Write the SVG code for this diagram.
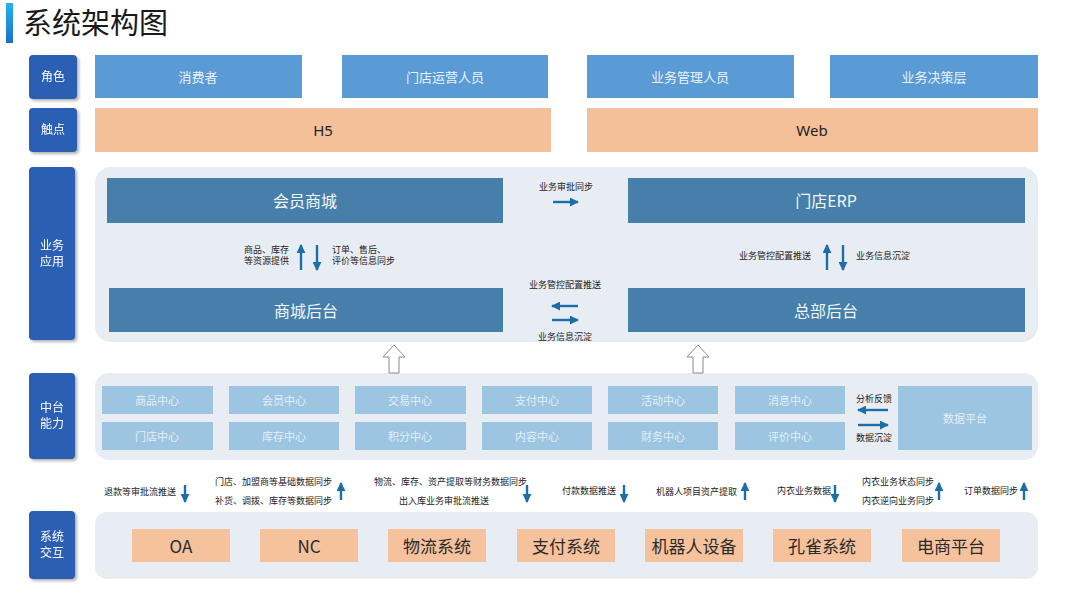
<svg xmlns="http://www.w3.org/2000/svg" width="1080" height="608" viewBox="0 0 1080 608">
<defs>
<linearGradient id="tb" x1="0" y1="0" x2="0" y2="1"><stop offset="0" stop-color="#23b4ec"/><stop offset="1" stop-color="#1a6fcc"/></linearGradient>
<filter id="sh" x="-20%" y="-20%" width="150%" height="150%"><feDropShadow dx="2" dy="2" stdDeviation="1.5" flood-color="#000" flood-opacity="0.3"/></filter>
<marker id="ah" viewBox="0 0 10 10" refX="9" refY="5" markerWidth="9" markerHeight="9" markerUnits="userSpaceOnUse" orient="auto"><path d="M0,0 L10,5 L0,10 z" fill="#1c6ea8"/></marker>
<marker id="as" viewBox="0 0 10 10" refX="9" refY="5" markerWidth="9" markerHeight="9" markerUnits="userSpaceOnUse" orient="auto"><path d="M0,0 L10,5 L0,10 z" fill="#1c6ea8"/></marker>
<style>
text{font-family:"Noto Sans CJK SC","Noto Sans",sans-serif}
.lab rect{fill:#2b5fb3}
.lab text{fill:#fff;font-size:12px;text-anchor:middle}
.role rect{fill:#5b9bd5}
.role text{fill:#eaf2fb;font-size:13px;text-anchor:middle;dominant-baseline:central}
.tp rect{fill:#f4c09a}
.tp text{fill:#222;font-size:15px;text-anchor:middle;dominant-baseline:central;font-family:"Noto Sans","Liberation Sans",sans-serif}
.cont{fill:#e8edf3}
.app rect{fill:#477fab}
.app text{fill:#f2f6fa;font-size:16px;text-anchor:middle;dominant-baseline:central}
.mid rect{fill:#9cc5e2}
.mid text{fill:#e3eef7;font-size:11px;text-anchor:middle;dominant-baseline:central}
.sys rect{fill:#f5c29d}
.sys text{fill:#2a2a2a;font-size:17px;text-anchor:middle;dominant-baseline:central}
.sm{font-size:9px;fill:#222}
.ar{stroke:#1c6ea8;stroke-width:2.4;fill:none;marker-end:url(#ah)}
.ah{stroke:#1c6ea8;stroke-width:2.4;fill:none;marker-end:url(#as)}
.hol{fill:#fff;stroke:#8a8a8a;stroke-width:1}
</style>
</defs>
<rect width="1080" height="608" fill="#fff"/>
<g id="title">
<rect x="6" y="3" width="7" height="40" fill="url(#tb)"/>
<text x="23" y="34" font-size="29" fill="#1a1a1a">系统架构图</text>
</g>
<g id="label-role" class="lab" filter="url(#sh)"><rect x="29" y="55" width="48" height="44" rx="4"/><text x="53" y="81">角色</text></g>
<g id="label-touch" class="lab" filter="url(#sh)"><rect x="29" y="108" width="48" height="44" rx="4"/><text x="53" y="134">触点</text></g>
<g id="label-app" class="lab" filter="url(#sh)"><rect x="29" y="167" width="46" height="173" rx="4"/><text x="52" y="250">业务</text><text x="52" y="266">应用</text></g>
<g id="label-mid" class="lab" filter="url(#sh)"><rect x="29" y="373" width="46" height="86" rx="4"/><text x="52" y="412">中台</text><text x="52" y="428">能力</text></g>
<g id="label-sys" class="lab" filter="url(#sh)"><rect x="29" y="511" width="46" height="68" rx="4"/><text x="52" y="541">系统</text><text x="52" y="557">交互</text></g>

<g id="role-consumer" class="role"><rect x="95" y="55" width="207" height="43"/><text x="198" y="76">消费者</text></g>
<g id="role-store" class="role"><rect x="342" y="55" width="206" height="43"/><text x="445" y="76">门店运营人员</text></g>
<g id="role-mgmt" class="role"><rect x="587" y="55" width="207" height="43"/><text x="690" y="76">业务管理人员</text></g>
<g id="role-decision" class="role"><rect x="830" y="55" width="208" height="43"/><text x="934" y="76">业务决策层</text></g>

<g id="tp-h5" class="tp"><rect x="95" y="108" width="456" height="44"/><text x="323" y="130">H5</text></g>
<g id="tp-web" class="tp"><rect x="587" y="108" width="451" height="44"/><text x="812" y="130">Web</text></g>

<rect id="app-container" class="cont" x="95" y="167" width="943" height="175" rx="16"/>
<g id="app-mall" class="app"><rect x="107" y="178" width="396" height="45"/><text x="305" y="200">会员商城</text></g>
<g id="app-erp" class="app"><rect x="628" y="178" width="397" height="45"/><text x="826" y="200">门店ERP</text></g>
<g id="app-mallback" class="app"><rect x="109" y="288" width="394" height="44"/><text x="306" y="310">商城后台</text></g>
<g id="app-hq" class="app"><rect x="628" y="288" width="397" height="44"/><text x="826" y="310">总部后台</text></g>

<rect id="mid-container" class="cont" x="95" y="373" width="943" height="87" rx="14"/>
<g id="mid-goods" class="mid"><rect x="102" y="386" width="111" height="28"/><text x="157" y="400">商品中心</text></g>
<g id="mid-member" class="mid"><rect x="229" y="386" width="110" height="28"/><text x="284" y="400">会员中心</text></g>
<g id="mid-trade" class="mid"><rect x="355" y="386" width="111" height="28"/><text x="410" y="400">交易中心</text></g>
<g id="mid-pay" class="mid"><rect x="482" y="386" width="110" height="28"/><text x="537" y="400">支付中心</text></g>
<g id="mid-activity" class="mid"><rect x="608" y="386" width="110" height="28"/><text x="663" y="400">活动中心</text></g>
<g id="mid-msg" class="mid"><rect x="735" y="386" width="110" height="28"/><text x="790" y="400">消息中心</text></g>
<g id="mid-store" class="mid"><rect x="102" y="422" width="111" height="28"/><text x="157" y="436">门店中心</text></g>
<g id="mid-stock" class="mid"><rect x="229" y="422" width="110" height="28"/><text x="284" y="436">库存中心</text></g>
<g id="mid-points" class="mid"><rect x="355" y="422" width="111" height="28"/><text x="410" y="436">积分中心</text></g>
<g id="mid-content" class="mid"><rect x="482" y="422" width="110" height="28"/><text x="537" y="436">内容中心</text></g>
<g id="mid-finance" class="mid"><rect x="608" y="422" width="110" height="28"/><text x="663" y="436">财务中心</text></g>
<g id="mid-review" class="mid"><rect x="735" y="422" width="110" height="28"/><text x="790" y="436">评价中心</text></g>
<g id="mid-data" class="mid"><rect x="898" y="386" width="134" height="64"/><text x="965" y="418">数据平台</text></g>

<rect id="sys-container" class="cont" x="95" y="512" width="943" height="67" rx="12"/>
<g id="sys-oa" class="sys"><rect x="132" y="529" width="98" height="33"/><text x="181" y="545" font-family="Noto Sans,Liberation Sans,sans-serif">OA</text></g>
<g id="sys-nc" class="sys"><rect x="260" y="529" width="98" height="33"/><text x="309" y="545" font-family="Noto Sans,Liberation Sans,sans-serif">NC</text></g>
<g id="sys-logistics" class="sys"><rect x="388" y="529" width="98" height="33"/><text x="437" y="545">物流系统</text></g>
<g id="sys-pay" class="sys"><rect x="517" y="529" width="98" height="33"/><text x="566" y="545">支付系统</text></g>
<g id="sys-robot" class="sys"><rect x="645" y="529" width="98" height="33"/><text x="694" y="545">机器人设备</text></g>
<g id="sys-peacock" class="sys"><rect x="773" y="529" width="98" height="33"/><text x="822" y="545">孔雀系统</text></g>
<g id="sys-ecom" class="sys"><rect x="902" y="529" width="98" height="33"/><text x="951" y="545">电商平台</text></g>

<g id="connectors">
<text class="sm" x="566" y="190" text-anchor="middle">业务审批同步</text>
<path class="ah" d="M553,202 H578"/>
<text class="sm" x="289" y="253" text-anchor="end">商品、库存</text>
<text class="sm" x="289" y="264" text-anchor="end">等资源提供</text>
<path class="ar" d="M301,270 V245"/>
<path class="ar" d="M317,245 V270"/>
<text class="sm" x="332" y="253">订单、售后、</text>
<text class="sm" x="332" y="264">评价等信息同步</text>
<text class="sm" x="811" y="259" text-anchor="end">业务管控配置推送</text>
<path class="ar" d="M827,270 V245"/>
<path class="ar" d="M843,245 V270"/>
<text class="sm" x="856" y="259">业务信息沉淀</text>
<text class="sm" x="565" y="288" text-anchor="middle">业务管控配置推送</text>
<path class="ah" d="M578,306 H552"/>
<path class="ah" d="M552,320 H578"/>
<text class="sm" x="565" y="340" text-anchor="middle">业务信息沉淀</text>
<polygon class="hol" points="394,345 383,357 389,357 389,373 399,373 399,357 405,357"/>
<polygon class="hol" points="698,345 687,357 693,357 693,373 703,373 703,357 709,357"/>
<text class="sm" x="874" y="402" text-anchor="middle">分析反馈</text>
<path class="ah" d="M888,410 H858"/>
<path class="ah" d="M858,425 H888"/>
<text class="sm" x="874" y="441" text-anchor="middle">数据沉淀</text>
<text class="sm" x="104" y="495">退款等审批流推送</text>
<path class="ar" d="M185,485 V502"/>
<text class="sm" x="215" y="485">门店、加盟商等基础数据同步</text>
<text class="sm" x="215" y="504">补货、调拨、库存等数据同步</text>
<path class="ar" d="M341,500 V483"/>
<text class="sm" x="374" y="485">物流、库存、资产提取等财务数据同步</text>
<text class="sm" x="399" y="504">出入库业务审批流推送</text>
<path class="ar" d="M527,485 V502"/>
<text class="sm" x="562" y="494">付款数据推送</text>
<path class="ar" d="M624,485 V502"/>
<text class="sm" x="656" y="495">机器人项目资产提取</text>
<path class="ar" d="M745,500 V483"/>
<text class="sm" x="777" y="494">内衣业务数据</text>
<path class="ar" d="M835,485 V502"/>
<text class="sm" x="862" y="485">内衣业务状态同步</text>
<text class="sm" x="862" y="504">内衣逆向业务同步</text>
<path class="ar" d="M939,500 V483"/>
<text class="sm" x="964" y="494">订单数据同步</text>
<path class="ar" d="M1024,500 V483"/>
</g>
</svg>
